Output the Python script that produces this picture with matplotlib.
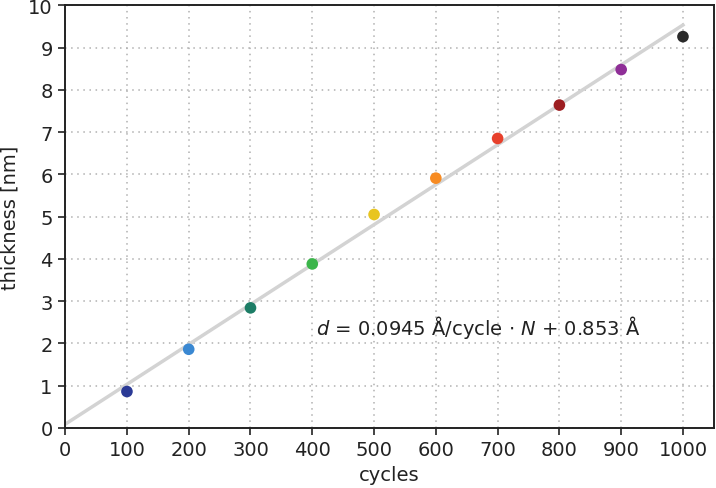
import numpy as np
import matplotlib
matplotlib.use('Agg')
import matplotlib.pyplot as plt

# measured thickness vs. number of cycles
cycles = [100, 200, 300, 400, 500, 600, 700, 800, 900, 1000]
thickness = [0.86, 1.86, 2.84, 3.88, 5.05, 5.91, 6.85, 7.64, 8.48, 9.26]
colors = ['#2b3a96', '#3a88d2', '#1d7d66', '#3bb54a', '#e8c520',
          '#f78b22', '#e7402b', '#9c1d20', '#8f2e97', '#2a2a2a']

# linear fit (Angstrom)
slope = 0.0945
intercept = 0.853
fit_x = [0, 1000]

text_color = '#222222'
plt.rcParams['text.color'] = text_color
plt.rcParams['axes.labelcolor'] = text_color
plt.rcParams['xtick.color'] = text_color
plt.rcParams['ytick.color'] = text_color

fig, ax = plt.subplots(figsize=(7.16, 4.89), dpi=100)
fig.subplots_adjust(left=0.091, right=0.997, top=0.987, bottom=0.123)

fx = np.array(fit_x)
ax.plot(fx, (slope * fx + intercept) / 10, color='#d3d3d3', lw=2.5, zorder=2)
ax.scatter(cycles, thickness, c=colors, s=70, zorder=3, edgecolors='none')

ax.text(406, 2.39, r'$d$ = 0.0945 Å/cycle $\cdot$ $N$ + 0.853 Å',
        fontsize=14, va='center', ha='left')

ax.set_xlim(0, 1050)
ax.set_ylim(0, 10)
ax.set_xticks(range(0, 1001, 100))
ax.set_yticks(range(0, 11))
ax.set_xlabel('cycles', fontsize=14, labelpad=4)
ax.set_ylabel('thickness [nm]', fontsize=14, labelpad=6)
ax.tick_params(labelsize=14, length=5, width=1.2, direction='out', pad=4)
ax.grid(True, linestyle=(0, (1, 3)), color='#b0b0b0', lw=1.1)
for s in ax.spines.values():
    s.set_color(text_color)
    s.set_linewidth(1.4)

plt.savefig('out.png', dpi=100)
